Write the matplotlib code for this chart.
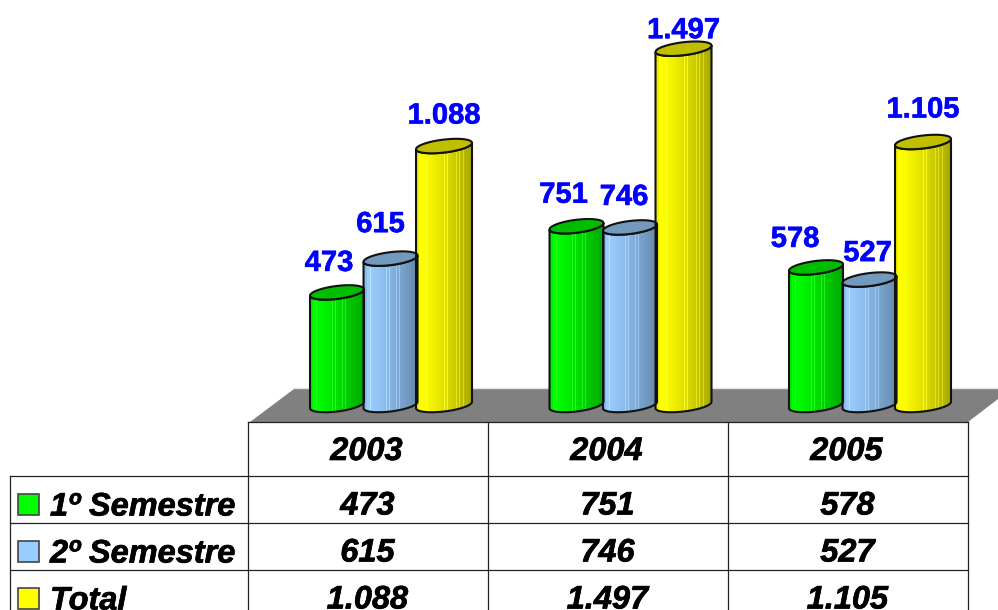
import numpy as np
import matplotlib
matplotlib.use('Agg')
import matplotlib.pyplot as plt
import matplotlib.patheffects as pe
from matplotlib.patches import Polygon, Rectangle

years = ['2003', '2004', '2005']
series_names = ['1º Semestre', '2º Semestre', 'Total']
sem1 = [473, 751, 578]
sem2 = [615, 746, 527]
total = [1088, 1497, 1105]

W, H = 998, 610
plt.rcParams['font.family'] = ['Liberation Sans', 'DejaVu Sans']

# colours: light side, dark side, top of the cylinder
colors = [('#00ff00', '#00a800', '#00bd00'),
          ('#99ccff', '#6488aa', '#7399bf'),
          ('#ffff00', '#a8a800', '#bfbf00')]
swatch = ['#00ff00', '#99ccff', '#ffff00']

# pixel scale of the chart
px_x = 239.5  # one category
px_y = 0.238  # one unit
x0_px, y0_px = 390.5, 405

fig = plt.figure(figsize=(W / 100, H / 100), dpi=100)

# table + floor, in pixels
tb = fig.add_axes([0, 0, 1, 1])
tb.set_xlim(0, W)
tb.set_ylim(H, 0)
tb.axis('off')
tb.add_patch(Polygon([(250, 422), (294, 389), (W, 389), (W, 399), (968, 422)],
                     fc='#808080', ec='none'))
tb.plot([294, W], [388, 388], color='#e4e4e4', lw=1)

col_x = [248, 488, 728, 968]
row_y = [476, 523, 570]
line = dict(color='#222222', lw=0.9)
tb.plot([248, 968], [422, 422], **line)
for y in row_y:
    tb.plot([10, 968], [y, y], **line)
for x in col_x:
    tb.plot([x, x], [422, H], **line)
tb.plot([10, 10], [476, H], **line)

heavy = [pe.withStroke(linewidth=0.5, foreground='black')]
font = dict(fontweight='bold', fontstyle='italic', fontsize=23.4, color='black',
            va='center', path_effects=heavy)
fmt = lambda v: f'{v:,}'.replace(',', '.')
for j, year in enumerate(years):
    cx = (col_x[j] + col_x[j + 1]) / 2 - 1
    tb.text(cx - 0.5, 452, year, ha='center', **font)
    for i, vals in enumerate([sem1, sem2, total]):
        tb.text(cx + 0.5, row_y[i] + 30.5, fmt(vals[j]), ha='center', **font)
for i, name in enumerate(series_names):
    tb.text(50, row_y[i] + 31.5, name, ha='left', **font)
    tb.add_patch(Rectangle((18, row_y[i] + 18), 21, 21, fc=swatch[i], ec='#444444', lw=1.2))

# cylinders, in data units
ax = fig.add_axes([0, 0, 1, 1])
ax.patch.set_alpha(0)
ax.axis('off')
ax.set_xlim(-x0_px / px_x, (W - x0_px) / px_x)
ax.set_ylim((y0_px - H) / px_y, y0_px / px_y)
ax.set_autoscale_on(False)

offsets = [-53.5 / px_x, 0, 53.5 / px_x]
widths = [54 / px_x, 54 / px_x, 56 / px_x]
stripes = [.12, .19, .41, .47, .5, .56, .6, .66, .72, .78, .85]


def shaded(c1, c2):
    a, b = np.array(matplotlib.colors.to_rgb(c1)), np.array(matplotlib.colors.to_rgb(c2))
    t = np.linspace(0, 1, 110)
    s = (np.clip((t - .08) / .92, 0, 1) ** 1.3)[:, None]
    img = a * (1 - s) + b * s
    img[:6] *= .93
    for p in stripes:
        k = int(p * 110)
        img[k:k + 1] = np.clip(img[k:k + 1] + .12, 0, 1)
    return img[None, :, :]


def ellipse(cx, cy, w):
    # slanted ellipse, the right end is higher than the left one
    t = np.linspace(0, 2 * np.pi, 80)
    x = cx + w / 2 * np.cos(t)
    y = cy + (3.2 * np.cos(t) + 6.5 * np.sin(t)) / px_y
    return t, x, y


def cylinder(cx, v, w, c):
    t, bx, by = ellipse(cx, 0, w)
    _, tx, ty = ellipse(cx, v, w)
    # body outline: lower half of base + lower half of top, reversed
    low = np.sin(t) <= 0
    order = np.argsort(bx[low])
    xs_b, ys_b = bx[low][order], by[low][order]
    order = np.argsort(tx[low])
    xs_t, ys_t = tx[low][order][::-1], ty[low][order][::-1]
    body = Polygon(np.r_[np.c_[xs_b, ys_b], np.c_[xs_t, ys_t]], closed=True,
                   fc='none', ec='#111111', lw=1.5, zorder=3)
    ax.add_patch(body)
    im = ax.imshow(shaded(c[0], c[1]), extent=(cx - w / 2, cx + w / 2, -100, v + 100),
                   aspect='auto', interpolation='nearest', zorder=2)
    im.set_clip_path(body)
    ax.add_patch(Polygon(np.c_[tx, ty], closed=True, fc=c[2], ec='#111111', lw=1.5, zorder=3))


# label positions, pixels from the top of each bar
label_off = [[(-8, 32), (-10, 37), (0, 33)],
             [(-13, 34), (-6, 33), (0, 21)],
             [(-21, 31), (-2, 29), (0, 35)]]

blue_heavy = [pe.withStroke(linewidth=0.4, foreground='#0000ff')]
for j in range(len(years)):
    for i, vals in enumerate([sem1, sem2, total]):
        cx = j + offsets[i]
        cylinder(cx, vals[j], widths[i], colors[i])
        dx, dy = label_off[j][i]
        ax.annotate(fmt(vals[j]), (cx, vals[j]), xytext=(dx * .72, (dy - 2.5) * .72),
                    textcoords='offset points', ha='center', va='center',
                    fontsize=21, fontweight='bold', color='#0000ff', zorder=5,
                    path_effects=blue_heavy)

fig.savefig('out.png', dpi=100)
